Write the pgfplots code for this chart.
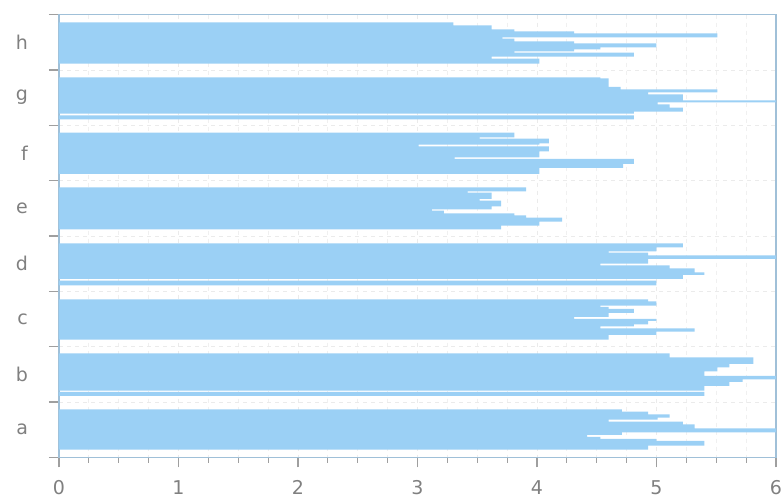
\documentclass[border=0pt]{standalone}
\usepackage{pgfplots}
\pgfplotsset{compat=1.18}
\usepackage{fontspec}
\setmainfont{DejaVu Sans}
\definecolor{barblue}{RGB}{155,208,245}
\definecolor{framecol}{RGB}{160,192,216}
\definecolor{labcol}{RGB}{128,128,128}
\begin{document}
\begin{tikzpicture}
\useasboundingbox (-29.5pt,-22pt) rectangle (361pt,228.65pt);
\begin{axis}[
  at={(0pt,0pt)}, anchor=south west,
  scale only axis, width=358.5pt, height=221.35pt,
  xmin=0, xmax=6, ymin=0, ymax=1328, y dir=reverse,
  xtick={0,...,6}, minor x tick num=3,
  ytick={0,166,...,1328},
  yticklabels={,,,,,,,,},
  extra y ticks={83,249,415,581,747,913,1079,1245},
  extra y tick labels={h,g,f,e,d,c,b,a},
  extra y tick style={major tick length=0pt, grid=none,
    yticklabel style={xshift=-12pt}},
  tick align=outside, xtick pos=bottom, ytick pos=left,
  major tick length=5pt, minor tick length=2.7pt,
  tick style={color=gray!75, line width=0.6pt},
  axis line style={color=framecol, line width=0.7pt},
  grid=both,
  major grid style={dash pattern=on 2pt off 2pt, black!8},
  minor grid style={dash pattern=on 2pt off 2pt, black!6},
  /pgf/number format/assume math mode=true,
  tick label style={font=\fontsize{9.5}{11}\selectfont, text=labcol},
  xticklabel style={yshift=-3pt},
]
% h
\addplot[xbar interval, fill=barblue, draw=none] coordinates {
(3.30,23) (3.62,32) (3.81,44) (4.31,50) (5.51,56) (3.71,68) (3.81,72) (4.31,80)
(5.00,86) (4.53,98) (4.31,104) (3.81,110) (4.81,114) (3.62,126) (4.02,132) (0,147)};
% g
\addplot[xbar interval, fill=barblue, draw=none] coordinates {
(4.53,188) (4.60,191) (4.70,217) (5.51,224) (4.93,233) (5.22,239) (6.00,257)
(5.01,263) (5.11,269) (5.22,279) (4.81,291) (0,297) (4.81,302) (0,314)};
% f
\addplot[xbar interval, fill=barblue, draw=none] coordinates {
(3.81,354) (3.52,368) (4.10,372) (4.02,386) (3.01,390) (4.10,395) (4.02,410)
(3.31,428) (4.81,433) (4.72,448) (4.02,460) (0,478)};
% e
\addplot[xbar interval, fill=barblue, draw=none] coordinates {
(3.91,518) (3.42,530) (3.62,534) (3.52,553) (3.70,558) (3.62,575) (3.12,584)
(3.22,588) (3.81,596) (3.91,602) (4.21,609) (4.02,621) (3.70,633) (0,644)};
% d
\addplot[xbar interval, fill=barblue, draw=none] coordinates {
(5.22,686) (5.00,698) (4.60,710) (4.93,714) (6.00,722) (4.93,733) (4.53,747)
(5.11,752) (5.32,761) (5.40,773) (5.22,781) (0,793) (5.00,798) (0,812)};
% c
\addplot[xbar interval, fill=barblue, draw=none] coordinates {
(4.93,854) (5.00,860) (4.53,873) (4.60,877) (4.81,883) (4.60,895) (4.31,907)
(5.00,913) (4.93,919) (4.81,929) (4.53,935) (5.32,941) (5.00,951) (4.60,961) (0,975)};
% b
\addplot[xbar interval, fill=barblue, draw=none] coordinates {
(5.11,1016) (5.81,1028) (5.61,1048) (5.51,1058) (5.40,1070) (6.00,1084)
(5.72,1094) (5.61,1102) (5.40,1114) (0,1128) (5.40,1132) (0,1144)};
% a
\addplot[xbar interval, fill=barblue, draw=none] coordinates {
(4.71,1184) (4.93,1191) (5.11,1199) (5.01,1209) (4.60,1215) (5.22,1221)
(5.32,1229) (6.00,1241) (4.71,1253) (4.42,1261) (4.53,1267) (5.00,1273)
(5.40,1279) (4.93,1293) (0,1305)};
\end{axis}
\end{tikzpicture}
\end{document}
